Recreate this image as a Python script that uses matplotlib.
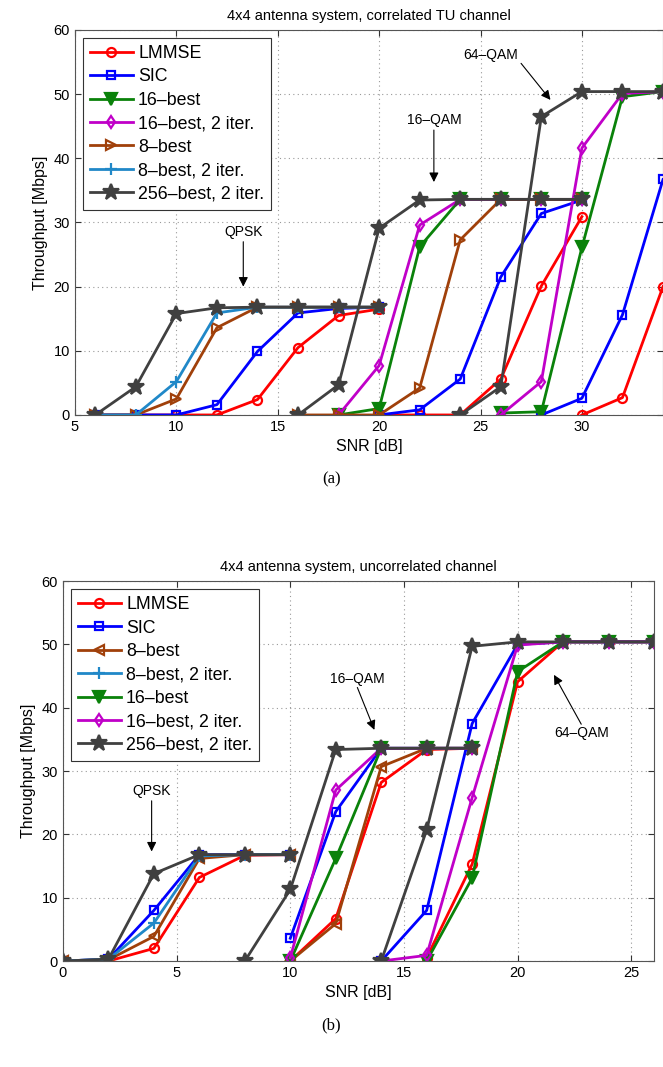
import numpy as np
import matplotlib.pyplot as plt

nan = np.nan

# (a) correlated TU channel
a_snr_qpsk = [6, 8, 10, 12, 14, 16, 18, 20]
a_snr_16qam = [16, 18, 20, 22, 24, 26, 28, 30]
a_snr_64qam = [24, 26, 28, 30, 32, 34]

a_lmmse = [[0, 0, 0, 0, 2.4, 10.5, 15.5, 16.5],
           [nan, nan, 0, 0, 0, 5.6, 20.1, 30.9],
           [nan, nan, nan, 0, 2.7, 20.0]]
a_sic = [[0, 0, 0, 1.6, 9.9, 15.9, 16.6, 16.8],
         [nan, nan, 0, 0.8, 5.6, 21.5, 31.4, 33.5],
         [nan, nan, 0, 2.6, 15.6, 36.7]]
a_16best = [None,
            [nan, 0, 1.0, 26.2, 33.6, 33.6, 33.6, 33.6],
            [nan, 0.3, 0.5, 26.1, 49.6, 50.4]]
a_16best_2it = [None,
                [nan, 0, 7.7, 29.6, 33.6, 33.6, 33.6, 33.6],
                [nan, 0, 5.2, 41.6, 50.1, 50.4]]
a_8best = [[0, 0, 2.5, 13.6, 16.8, 16.8, 16.8, 16.8],
           [0, 0, 0, 4.2, 27.3, 33.6, 33.6, 33.6],
           None]
a_8best_2it = [[0, 0, 5.2, 15.9, 16.8, 16.8, 16.8, 16.8], None, None]
a_256best_2it = [[0, 4.4, 15.8, 16.7, 16.8, 16.8, 16.8, 16.8],
                 [0, 4.7, 29.1, 33.5, 33.6, 33.6, 33.6, 33.6],
                 [0, 4.4, 46.5, 50.4, 50.4, 50.4]]

# (b) uncorrelated channel
b_snr_qpsk = [0, 2, 4, 6, 8, 10]
b_snr_16qam = [8, 10, 12, 14, 16, 18]
b_snr_64qam = [14, 16, 18, 20, 22, 24, 26]

b_lmmse = [[0, 0, 2.0, 13.2, 16.7, 16.8],
           [nan, 0, 6.7, 28.2, 33.4, 33.6],
           [nan, 0.5, 15.3, 44.1, 50.4, 50.4, 50.4]]
b_sic = [[0, 0.3, 8.0, 16.8, 16.8, 16.8],
         [nan, 3.6, 23.6, 33.6, 33.6, 33.6],
         [0, 8.0, 37.5, 50.0, 50.4, 50.4, 50.4]]
b_8best = [[0, 0.2, 3.9, 16.2, 16.8, 16.8],
           [nan, 0, 5.9, 30.7, 33.6, 33.6],
           None]
b_8best_2it = [[0, 0.3, 6.0, 16.6, 16.8, 16.8], None, None]
b_16best = [None,
            [nan, 0, 16.2, 33.6, 33.6, 33.6],
            [nan, 0, 13.1, 45.7, 50.4, 50.4, 50.4]]
b_16best_2it = [None,
                [nan, 0.5, 27.0, 33.6, 33.6, 33.6],
                [0, 0.9, 25.8, 49.9, 50.4, 50.4, 50.4]]
b_256best_2it = [[0, 0.3, 13.8, 16.8, 16.8, 16.8],
                 [0, 11.3, 33.4, 33.6, 33.6, 33.6],
                 [0, 20.7, 49.7, 50.4, 50.4, 50.4, 50.4]]

styles = {
    "LMMSE": dict(color="#ff0000", marker="o", mfc="none", ms=6.5),
    "SIC": dict(color="#0000ff", marker="s", mfc="none", ms=6),
    "16-best": dict(color="#0a820a", marker="v", mfc="#0a820a", ms=8),
    "16-best, 2 iter.": dict(color="#c000c8", marker="d", mfc="none", ms=6.5),
    "8-best a": dict(color="#a0400a", marker=">", mfc="none", ms=7.5),
    "8-best b": dict(color="#a0400a", marker="<", mfc="none", ms=7.5),
    "8-best, 2 iter.": dict(color="#2088c8", marker="+", mfc="none", ms=8),
    "256-best, 2 iter.": dict(color="#404040", marker="*", mfc="#404040", ms=12),
}

plt.rcParams["font.family"] = ["Liberation Sans", "DejaVu Sans"]

fig = plt.figure(figsize=(6.63, 10.67), dpi=100)
ax_a = fig.add_axes([0.1131, 0.6111, 0.8869, 0.3608])
ax_b = fig.add_axes([0.095, 0.0993, 0.8914, 0.3561])


def draw(ax, snrs, series, label, style):
    first = True
    for x, y in zip(snrs, series):
        if y is None:
            continue
        ax.plot(x, y, color=style["color"], marker=style["marker"],
                mfc=style["mfc"], ms=style["ms"], mew=1.6, lw=2,
                label=label if first else None)
        first = False


a_snrs = [a_snr_qpsk, a_snr_16qam, a_snr_64qam]
draw(ax_a, a_snrs, a_lmmse, "LMMSE", styles["LMMSE"])
draw(ax_a, a_snrs, a_sic, "SIC", styles["SIC"])
draw(ax_a, a_snrs, a_16best, "16\u2013best", styles["16-best"])
draw(ax_a, a_snrs, a_16best_2it, "16\u2013best, 2 iter.", styles["16-best, 2 iter."])
draw(ax_a, a_snrs, a_8best, "8\u2013best", styles["8-best a"])
draw(ax_a, a_snrs, a_8best_2it, "8\u2013best, 2 iter.", styles["8-best, 2 iter."])
draw(ax_a, a_snrs, a_256best_2it, "256\u2013best, 2 iter.", styles["256-best, 2 iter."])

b_snrs = [b_snr_qpsk, b_snr_16qam, b_snr_64qam]
draw(ax_b, b_snrs, b_lmmse, "LMMSE", styles["LMMSE"])
draw(ax_b, b_snrs, b_sic, "SIC", styles["SIC"])
draw(ax_b, b_snrs, b_8best, "8\u2013best", styles["8-best b"])
draw(ax_b, b_snrs, b_8best_2it, "8\u2013best, 2 iter.", styles["8-best, 2 iter."])
draw(ax_b, b_snrs, b_16best, "16\u2013best", styles["16-best"])
draw(ax_b, b_snrs, b_16best_2it, "16\u2013best, 2 iter.", styles["16-best, 2 iter."])
draw(ax_b, b_snrs, b_256best_2it, "256\u2013best, 2 iter.", styles["256-best, 2 iter."])

arrow = dict(arrowstyle="-|>", color="black", lw=0.8,
             mutation_scale=14, shrinkA=0, shrinkB=0)


def mark(ax, text, tpos, start, tip):
    ax.text(tpos[0], tpos[1], text, ha="center", va="center", fontsize=10)
    ax.annotate("", xy=tip, xytext=start, arrowprops=arrow)


mark(ax_a, "QPSK", (13.3, 28.5), (13.3, 27.0), (13.3, 20.0))
mark(ax_a, "16\u2013QAM", (22.7, 46.0), (22.7, 44.4), (22.7, 36.3))
mark(ax_a, "64\u2013QAM", (25.5, 56.1), (27.0, 54.8), (28.45, 49.1))

mark(ax_b, "QPSK", (3.9, 26.8), (3.9, 25.3), (3.9, 17.3))
mark(ax_b, "16\u2013QAM", (12.95, 44.6), (12.95, 43.2), (13.7, 36.5))
mark(ax_b, "64\u2013QAM", (22.8, 36.0), (22.8, 37.4), (21.6, 45.2))

for ax, xlim, xticks, title, tag in [
        (ax_a, (5, 34), range(5, 31, 5), "4x4 antenna system, correlated TU channel", "(a)"),
        (ax_b, (0, 26), range(0, 26, 5), "4x4 antenna system, uncorrelated channel", "(b)")]:
    ax.set_xlim(*xlim)
    ax.set_ylim(0, 60)
    ax.set_xticks(list(xticks))
    ax.set_yticks(range(0, 61, 10))
    ax.grid(True, linestyle=(0, (1, 3)), color="#999999", lw=0.8)
    ax.tick_params(direction="in", top=True, right=True, labelsize=10.5,
                   length=4, colors="#333333", labelcolor="black")
    for s in ax.spines.values():
        s.set_color("#555555")
        s.set_linewidth(0.8)
    ax.set_title(title, fontsize=10.5, pad=7)
    ax.set_xlabel("SNR [dB]", fontsize=11.5)
    ax.set_ylabel("Throughput [Mbps]", fontsize=11.5)
    leg = ax.legend(loc="upper left", fontsize=12.8, handlelength=2.4,
                    handletextpad=0.3, labelspacing=0.36, borderpad=0.4,
                    borderaxespad=0.45, fancybox=False, framealpha=1)
    leg.get_frame().set_edgecolor("#333333")
    leg.get_frame().set_linewidth(0.8)
    bb = ax.get_position()
    fig.text(0.5, bb.y0 - 0.06, tag, ha="center", va="center",
             fontsize=12, family="Liberation Serif")

fig.savefig("out.png", dpi=100)
